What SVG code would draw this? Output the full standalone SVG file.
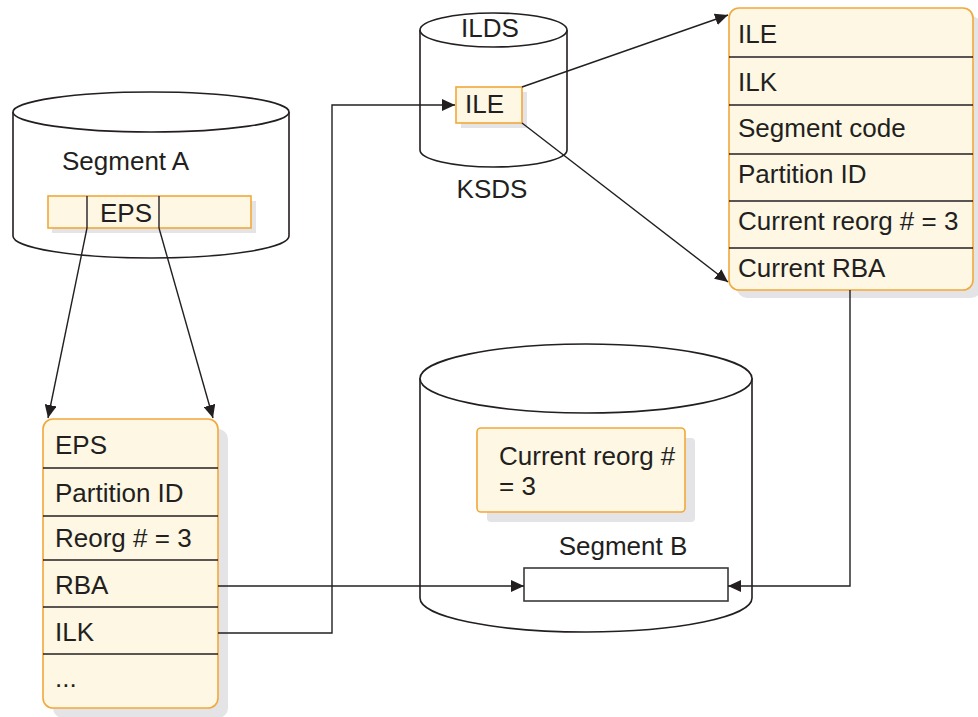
<svg xmlns="http://www.w3.org/2000/svg" width="978" height="717" viewBox="0 0 978 717">
<style>
.cyl{fill:#fff;stroke:#231f20;stroke-width:1.6}
.box{fill:#fdf7e4;stroke:#f2a83a;stroke-width:1.6}
.shadow{fill:#e4e4e6}
.div{stroke:#231f20;stroke-width:1.4}
.t{font-family:"Liberation Sans",Arial,sans-serif;font-size:26px;fill:#231f20}
.c{fill:none;stroke:#231f20;stroke-width:1.4}
</style>
<defs>
<marker id="ah" markerUnits="userSpaceOnUse" markerWidth="14" markerHeight="12" refX="13" refY="6" orient="auto">
<path d="M0,0 L13,6 L0,12 z" fill="#231f20"/>
</marker>
</defs>
<rect width="978" height="717" fill="#fff"/>

<g id="segmentA">
<path class="cyl" d="M13,112 L13,236 A138,22 0 0 0 289,236 L289,112"/>
<ellipse class="cyl" cx="151" cy="112" rx="138" ry="20"/>
<text class="t" x="62" y="170">Segment A</text>
<rect class="shadow" x="52" y="201" width="204" height="32"/>
<rect class="box" x="48" y="196" width="203" height="32"/>
<line class="div" x1="87" y1="196" x2="87" y2="228"/>
<line class="div" x1="159" y1="196" x2="159" y2="228"/>
<text class="t" x="100" y="222">EPS</text>
</g>

<g id="ilds">
<path class="cyl" d="M420,30 L420,150 A73.5,17 0 0 0 567,150 L567,30"/>
<ellipse class="cyl" cx="493.5" cy="30" rx="73.5" ry="17"/>
<text class="t" x="490" y="37" text-anchor="middle">ILDS</text>
<rect class="shadow" x="461" y="92" width="66" height="36"/>
<rect class="box" x="456" y="87" width="66" height="36"/>
<text class="t" x="465" y="113">ILE</text>
<text class="t" x="492" y="198" text-anchor="middle">KSDS</text>
</g>

<g id="ileRecord">
<rect class="shadow" x="737" y="16" width="244" height="282" rx="10"/>
<rect class="box" x="729" y="8" width="244" height="282" rx="10"/>
<line class="div" x1="729" y1="57" x2="973" y2="57"/>
<line class="div" x1="729" y1="105" x2="973" y2="105"/>
<line class="div" x1="729" y1="154" x2="973" y2="154"/>
<line class="div" x1="729" y1="201" x2="973" y2="201"/>
<line class="div" x1="729" y1="248" x2="973" y2="248"/>
<text class="t" x="738" y="43">ILE</text>
<text class="t" x="738" y="91">ILK</text>
<text class="t" x="738" y="137">Segment code</text>
<text class="t" x="738" y="183">Partition ID</text>
<text class="t" x="738" y="230">Current reorg # = 3</text>
<text class="t" x="738" y="277">Current RBA</text>
</g>

<g id="epsRecord">
<rect class="shadow" x="53" y="429" width="175" height="289" rx="10"/>
<rect class="box" x="43" y="419" width="175" height="289" rx="10"/>
<line class="div" x1="43" y1="468" x2="218" y2="468"/>
<line class="div" x1="43" y1="516" x2="218" y2="516"/>
<line class="div" x1="43" y1="560" x2="218" y2="560"/>
<line class="div" x1="43" y1="607" x2="218" y2="607"/>
<line class="div" x1="43" y1="654" x2="218" y2="654"/>
<text class="t" x="55" y="454">EPS</text>
<text class="t" x="55" y="502">Partition ID</text>
<text class="t" x="55" y="547">Reorg # = 3</text>
<text class="t" x="55" y="594">RBA</text>
<text class="t" x="55" y="641">ILK</text>
<text class="t" x="55" y="687">...</text>
</g>

<g id="segmentB">
<path class="cyl" d="M420,378 L420,598 A166,34 0 0 0 752,598 L752,378"/>
<ellipse class="cyl" cx="586" cy="378.5" rx="166" ry="34.5"/>
<rect class="shadow" x="487" y="438" width="208" height="84" rx="4"/>
<rect class="box" x="477" y="428" width="208" height="84" rx="4"/>
<text class="t" x="499" y="465">Current reorg #<tspan x="499" dy="30">= 3</tspan></text>
<text class="t" x="623" y="555" text-anchor="middle">Segment B</text>
<rect x="524" y="568" width="204" height="33" fill="#fff" stroke="#3a3a3a" stroke-width="1.6"/>
</g>

<g id="connectors">
<line class="c" x1="87" y1="228" x2="48" y2="418" marker-end="url(#ah)"/>
<line class="c" x1="159" y1="228" x2="213" y2="418" marker-end="url(#ah)"/>
<polyline class="c" points="218,586 524,586" marker-end="url(#ah)"/>
<polyline class="c" points="218,633 332,633 332,105 455,105" marker-end="url(#ah)"/>
<line class="c" x1="522" y1="87" x2="728" y2="15" marker-end="url(#ah)"/>
<line class="c" x1="522" y1="123" x2="728" y2="282" marker-end="url(#ah)"/>
<polyline class="c" points="850,290 850,586 728,586" marker-end="url(#ah)"/>
</g>
</svg>
